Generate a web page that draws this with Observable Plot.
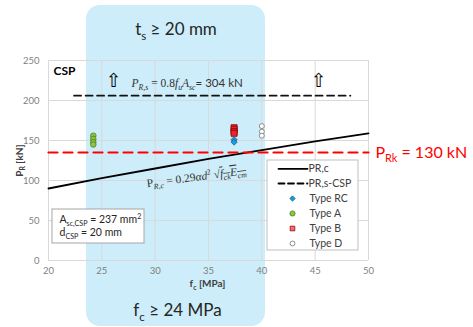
<!DOCTYPE html>
<html><head><meta charset="utf-8">
<script src="https://cdn.jsdelivr.net/npm/d3@7"></script>
<script src="https://cdn.jsdelivr.net/npm/@observablehq/plot@0.6"></script>
<style>
body{margin:0;background:#fff;}
#chart{position:absolute;left:0;top:0;}
</style></head><body><div id="chart"></div>
<script>
// ---- data ----
const xTicks = [20, 25, 30, 35, 40, 45, 50];
const yTicks = [0, 50, 100, 150, 200, 250];
const prcFc  = [20, 25, 30, 35, 40, 45, 50];
const prcVal = [90, 103, 115, 127, 138, 149, 159];
const prsFc  = [22.4, 48.3];
const prsVal = [206, 206];
const prkFc  = [20, 50];
const prkVal = [135, 135];
const typeRCFc = [37.4, 37.4];
const typeRCVal = [151, 148];
const typeAFc = [24.2, 24.2, 24.2, 24.2];
const typeAVal = [156, 152, 148, 145];
const typeBFc = [37.4, 37.4, 37.4, 37.4];
const typeBVal = [166, 164, 161, 159];
const typeDFc = [40, 40, 40];
const typeDVal = [168, 161, 156];
const legendLabels = ["PR,c", "PR,s-CSP", "Type RC", "Type A", "Type B", "Type D"];

// ---- rich text labels (segments: text, flags) ----
const rich = {
  "@ts":  [["t"], ["s", "sub"], [" \u2265 20 mm"]],
  "@fc":  [["f"], ["c", "sub"], [" \u2265 24 MPa"]],
  "@prk": [["P"], ["Rk", "sub"], [" = 130 kN"]],
  "@prs": [["P", "i m"], ["R,s", "sub i m"], [" = 0.8", "m"], ["f", "i m"], ["u", "sub i m"], ["A", "i m"], ["sc", "sub i m"], ["= 304 kN"]],
  "@prc": [["P", "m"], ["R,c", "sub i m"], [" = 0.29", "m"], ["\u03B1d", "i m"], ["2", "sup m"], [" \u221A", "m"], ["f", "i m o"], ["ck", "sub i m o"], ["E", "i m o"], ["cm", "sub i m o"]],
  "@xl":  [["f"], ["c", "sub"], [" [MPa]"]],
  "@yl":  [["P"], ["R", "sub"], [" [kN]"]],
  "@a1":  [["A"], ["sc,CSP", "sub"], [" = 237 mm"], ["2", "sup"]],
  "@a2":  [["d"], ["CSP", "sub"], [" = 20 mm"]]
};

const SANS = "Lato, 'Open Sans', sans-serif";
const SERIF = "'Liberation Serif', 'DejaVu Serif', serif";

// pixel -> data helpers for annotation placement
const X = p => 20 + (p - 48) * 30 / 320;
const Y = p => (260 - p) * 250 / 200;

const pts = (xs, ys) => xs.map((x, i) => ({x, y: ys[i]}));

const rowsPx = [168.3, 183, 198, 213, 228, 243];

const note = (key, px, py, opts = {}) =>
  Plot.text([{x: X(px), y: Y(py), t: key}], {x: "x", y: "y", text: "t", fontFamily: SANS, fill: "#262626", ...opts});

const plot = Plot.plot({
  width: 473,
  height: 327,
  marginLeft: 48,
  marginRight: 105,
  marginTop: 60,
  marginBottom: 67,
  style: {fontFamily: SANS, fontSize: "9.5px", color: "#7f7f7f", background: "white", overflow: "visible"},
  x: {domain: [20, 50], axis: null},
  y: {domain: [0, 250], axis: null},
  marks: [
    // blue zone
    Plot.rect([0], {x1: X(86), x2: X(265), y1: Y(326), y2: Y(5), fill: "#ccedf9", rx: 14}),
    // grid
    Plot.ruleX(xTicks, {stroke: "#d9d9d9", strokeWidth: 1}),
    Plot.ruleY(yTicks, {stroke: "#d9d9d9", strokeWidth: 1}),
    // tick labels
    Plot.text(xTicks, {x: d => d, frameAnchor: "bottom", dy: 13, text: d => String(d), fill: "#7f7f7f", fontSize: 9.5, fontFamily: SANS}),
    Plot.text(yTicks, {y: d => d, frameAnchor: "left", dx: -9, text: d => String(d), textAnchor: "end", fill: "#7f7f7f", fontSize: 9.5, fontFamily: SANS}),
    // lines
    Plot.line(pts(prcFc, prcVal), {x: "x", y: "y", stroke: "#000", strokeWidth: 1.8}),
    Plot.line(pts(prsFc, prsVal), {x: "x", y: "y", stroke: "#111", strokeWidth: 1.8, strokeDasharray: "7,4.5"}),
    Plot.line(pts(prkFc, prkVal), {x: "x", y: "y", stroke: "#ff0000", strokeWidth: 2.2, strokeDasharray: "9,6"}),
    // points
    Plot.dot(pts(typeAFc, typeAVal), {x: "x", y: "y", r: 2.8, fill: "#8cc63f", stroke: "#4f7f22", strokeWidth: 0.8}),
    Plot.dot(pts(typeBFc, typeBVal), {x: "x", y: "y", symbol: "square", r: 3.4, fill: "#e8262b", stroke: "#8f0000", strokeWidth: 0.8}),
    Plot.dot(pts(typeRCFc, typeRCVal), {x: "x", y: "y", symbol: "diamond2", r: 2.8, fill: "#1a9de0", stroke: "#1f5f8f", strokeWidth: 0.8}),
    Plot.dot(pts(typeDFc, typeDVal), {x: "x", y: "y", r: 2.5, fill: "#fff", stroke: "#808080", strokeWidth: 0.9}),
    // annotations
    note("@ts", 175.5, 29.5, {fontSize: 17, textAnchor: "middle"}),
    note("@fc", 177, 310.5, {fontSize: 17, textAnchor: "middle"}),
    note("CSP", 53, 71, {fontSize: 12, fontWeight: "bold", textAnchor: "start", fill: "#000"}),
    note("@prk", 375, 152.8, {fontSize: 16, textAnchor: "start", fill: "#ff0000"}),
    note("@prs", 131, 82.5, {fontSize: 11.5, textAnchor: "start", fill: "#333"}),
    note("\u21E7", 113, 80.5, {fontSize: 19, textAnchor: "middle", fill: "#000", fontFamily: "'DejaVu Sans'"}),
    note("\u21E7", 318, 80.5, {fontSize: 19, textAnchor: "middle", fill: "#000", fontFamily: "'DejaVu Sans'"}),
    note("@prc", 196, 176.5, {fontSize: 11.5, textAnchor: "middle", rotate: -7.5, fill: "#333"}),
    note("@xl", 207, 283.5, {fontSize: 10, fontWeight: "bold", textAnchor: "middle", fill: "#404040"}),
    note("@yl", 19, 160, {fontSize: 10, fontWeight: "bold", textAnchor: "middle", rotate: -90, fill: "#404040"}),
    // annotation box
    Plot.rect([0], {x1: X(52), x2: X(144), y1: Y(243), y2: Y(209), fill: "#fff", stroke: "#a6a6a6", strokeWidth: 1}),
    note("@a1", 59, 219, {fontSize: 10.5, textAnchor: "start"}),
    note("@a2", 59, 232.5, {fontSize: 10.5, textAnchor: "start"}),
    // legend
    Plot.rect([0], {x1: X(267), x2: X(358), y1: Y(250), y2: Y(160), fill: "#fff", stroke: "#bfbfbf", strokeWidth: 1}),
    Plot.line([{x: X(278), y: Y(rowsPx[0])}, {x: X(307), y: Y(rowsPx[0])}], {x: "x", y: "y", stroke: "#000", strokeWidth: 1.8}),
    Plot.line([{x: X(278), y: Y(rowsPx[1])}, {x: X(307), y: Y(rowsPx[1])}], {x: "x", y: "y", stroke: "#000", strokeWidth: 1.8, strokeDasharray: "6,3.5"}),
    Plot.dot([{x: X(292), y: Y(rowsPx[2])}], {x: "x", y: "y", symbol: "diamond2", r: 2.4, fill: "#1a9de0", stroke: "#1f5f8f", strokeWidth: 0.8}),
    Plot.dot([{x: X(292), y: Y(rowsPx[3])}], {x: "x", y: "y", r: 2.6, fill: "#8cc63f", stroke: "#4f7f22", strokeWidth: 0.8}),
    Plot.dot([{x: X(292), y: Y(rowsPx[4])}], {x: "x", y: "y", symbol: "square", r: 2.6, fill: "#f07070", stroke: "#a00000", strokeWidth: 0.8}),
    Plot.dot([{x: X(292), y: Y(rowsPx[5])}], {x: "x", y: "y", r: 2.4, fill: "#fff", stroke: "#808080", strokeWidth: 0.9}),
    Plot.text(legendLabels.map((t, i) => ({t, x: X(i < 2 ? 308 : 309), y: Y(rowsPx[i])})), {x: "x", y: "y", text: "t", fontSize: 10.5, textAnchor: "start", fill: "#404040", fontFamily: SANS})
  ]
});

// apply rich text (subscripts, italics) before attaching, with explicit sizes
function applyRich(el, segs) {
  let fs = 11;
  let n = el;
  while (n && n.getAttribute) {
    const a = n.getAttribute("font-size");
    if (a) { fs = parseFloat(a); break; }
    n = n.parentNode;
  }
  const t = d3.select(el);
  t.text(null);
  let cur = 0;
  for (const [s, flags = ""] of segs) {
    const f = flags.split(" ");
    const target = f.includes("sub") ? 0.25 * fs : f.includes("sup") ? -0.4 * fs : 0;
    const ts = t.append("tspan").text(s).attr("dy", (target - cur).toFixed(2));
    cur = target;
    if (f.includes("sub") || f.includes("sup")) ts.attr("font-size", (fs * 0.68).toFixed(2));
    if (f.includes("i")) ts.attr("font-style", "italic");
    if (f.includes("m")) ts.attr("font-family", SERIF);
    if (f.includes("o")) ts.style("text-decoration", "overline");
  }
}
plot.querySelectorAll("text").forEach(el => {
  const k = el.textContent;
  if (k.charAt(0) === "@" && rich[k]) {
    try { applyRich(el, rich[k]); } catch (e) {}
  }
});

document.getElementById("chart").appendChild(plot);
</script>
</body></html>
